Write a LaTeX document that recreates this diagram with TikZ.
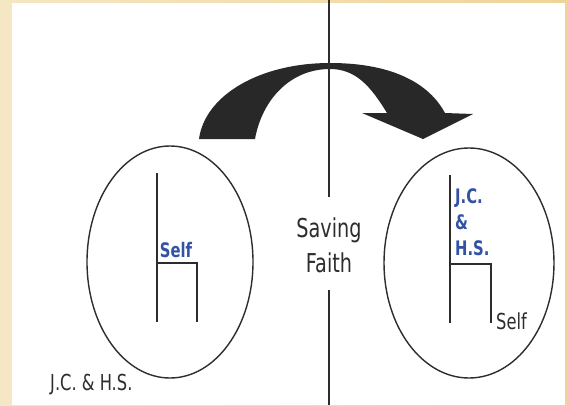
\documentclass[tikz,border=0pt]{standalone}
\usepackage{fontspec}
\usetikzlibrary{positioning}
\newfontfamily\diagfont[FakeStretch=0.74]{DejaVu Sans}
\definecolor{inkgray}{RGB}{45,45,45}
\definecolor{selfblue}{RGB}{50,82,165}
\definecolor{paperleft}{RGB}{245,231,196}
\definecolor{paperright}{RGB}{239,212,152}

\begin{document}
\begin{tikzpicture}[x=1pt,y=-1pt,
  soul/.style={draw=inkgray,line width=1.4pt},
  chair/.style={draw=inkgray,line width=1.3pt},
  divider/.style={draw=inkgray,line width=1.2pt},
  plain/.style={text=inkgray,inner sep=0pt,font=\diagfont\fontsize{22}{26}\selectfont},
  seat/.style={text=selfblue,inner sep=0pt,font=\diagfont\bfseries\fontsize{20}{26}\selectfont},
  bigarrow/.style={fill=inkgray!90!black,draw=none}
]
\useasboundingbox (0,0) rectangle (568,405);
\shade[left color=paperleft,right color=paperright] (0,0) rectangle (568,405);
\fill[white] (12,3) rectangle (565,405);

% the curved block arrow
\fill[bigarrow] (199,139) .. controls (205,95) and (260,63) .. (330,63)
  .. controls (395,63) and (430,85) .. (445,113) -- (473,114) -- (423,139)
  -- (362,113) -- (387,113) .. controls (370,85) and (355,69) .. (330,69)
  .. controls (290,69) and (262,100) .. (255,139) -- cycle;

% dividing line and middle label
\node[plain,align=center,font=\diagfont\fontsize{26}{35}\selectfont] (faith) at (329,245) {Saving\\Faith};
\coordinate (top) at (329,0);
\coordinate (gapA) at (329,197);
\coordinate (gapB) at (329,290);
\coordinate (bottom) at (329,405);
\draw[divider] (top) -- (gapA);
\draw[divider] (gapB) -- (bottom);

% left: self on the throne
\draw[soul] (170,262) ellipse [x radius=83pt,y radius=116pt];
\draw[chair] (157,173) -- (157,322);
\draw[chair] (157,263) -- (197,263) -- (197,322);
\node[seat,anchor=base] (selfL) at (176,257) {Self};
\node[plain,anchor=base west] (outL) at (50,390) {J.C. \& H.S.};

% right: J.C. & H.S. on the throne
\draw[soul] (469,263) ellipse [x radius=85pt,y radius=115pt];
\draw[chair] (450,175) -- (450,323);
\draw[chair] (450,264) -- (491,264) -- (491,323);
\node[seat,anchor=north west,align=left] (jcR) at (455,188) {J.C.\\\&\\H.S.};
\node[plain,anchor=base west] (selfR) at (496,329) {Self};
\end{tikzpicture}
\end{document}
